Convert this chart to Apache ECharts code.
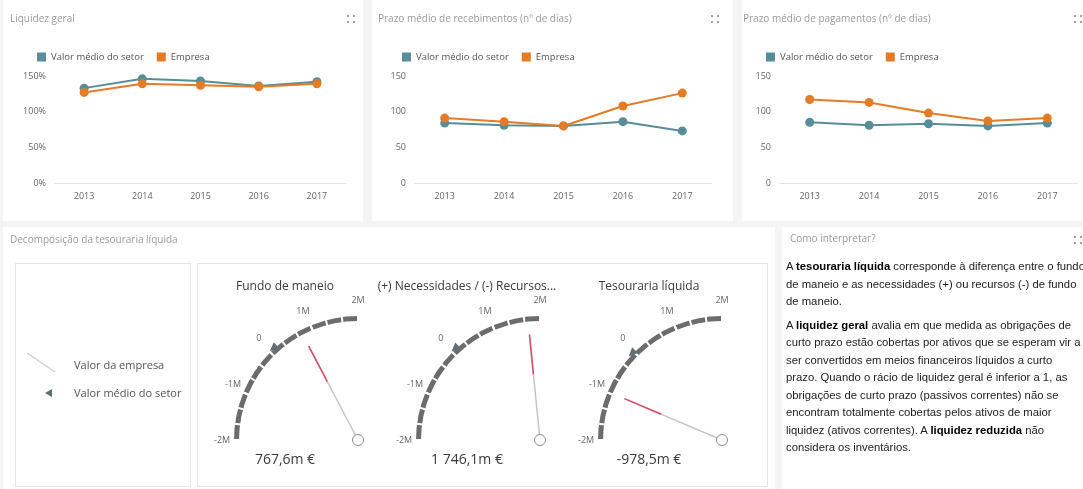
<!DOCTYPE html>
<html>
<head>
<meta charset="utf-8" />
<title>Liquidez e tesouraria</title>
<script src="https://cdn.jsdelivr.net/npm/echarts@6/dist/echarts.min.js"></script>
<style>
    body { margin: 0; background: #f4f4f4; width: 1083px; height: 489px; overflow: hidden; position: relative; }
    .card { position: absolute; background: #fff; }
    .box { position: absolute; background: #fff; border: 1px solid #e4e4e4; box-sizing: border-box; }
    #main { position: absolute; left: 0; top: 0; width: 1083px; height: 489px; }
    #texto { position: absolute; left: 786px; top: 258px; font-family: 'Liberation Sans', Arial, sans-serif;
             font-size: 11.3px; line-height: 17.5px; color: #222; white-space: nowrap; }
    #texto p { margin: 0 0 6px 0; }
    #texto b { color: #000; }
</style>
</head>
<body>
<!-- cartões do painel -->
<div class="card" style="left:3px;top:0;width:360px;height:221px;"></div>
<div class="card" style="left:372px;top:0;width:361px;height:221px;"></div>
<div class="card" style="left:742px;top:0;width:341px;height:221px;"></div>
<div class="card" style="left:3px;top:227px;width:772px;height:262px;"></div>
<div class="card" style="left:782px;top:227px;width:301px;height:262px;"></div>
<div class="box" style="left:15px;top:263px;width:176px;height:224px;"></div>
<div class="box" style="left:197px;top:263px;width:571px;height:224px;"></div>

<div id="main"></div>

<div id="texto">
    <p>A <b>tesouraria líquida</b> corresponde à diferença entre o fundo<br>de maneio e as necessidades (+) ou recursos (-) de fundo<br>de maneio.</p>
    <p>A <b>liquidez geral</b> avalia em que medida as obrigações de<br>curto prazo estão cobertas por ativos que se esperam vir a<br>ser convertidos em meios financeiros líquidos a curto<br>prazo. Quando o rácio de liquidez geral é inferior a 1, as<br>obrigações de curto prazo (passivos correntes) não se<br>encontram totalmente cobertas pelos ativos de maior<br>liquidez (ativos correntes). A <b>liquidez reduzida</b> não<br>considera os inventários.</p>
</div>

<script type="text/javascript">
    // dados
    var anos = ['2013', '2014', '2015', '2016', '2017'];
    var nomesSeries = ['Valor médio do setor', 'Empresa'];
    var liquidezSetor = [133, 146, 143, 136, 142];
    var liquidezEmpresa = [127, 139, 137, 135, 139];
    var recebimentosSetor = [84, 81, 80, 86, 73];
    var recebimentosEmpresa = [91, 86, 80, 108, 126];
    var pagamentosSetor = [85, 81, 83, 80, 84];
    var pagamentosEmpresa = [117, 113, 98, 87, 91];

    var gaugeNomes = ['Fundo de maneio', '(+) Necessidades / (-) Recursos...', 'Tesouraria líquida'];
    var gaugeEmpresa = [767600, 1746100, -978500];
    var gaugeSetor = [100000, 90000, -50000];
    var gaugeMin = -2000000;
    var gaugeMax = 2000000;

    var corSetor = '#568d99';
    var corEmpresa = '#e57b25';
    var fonte = "'Segoe UI', 'Open Sans', sans-serif";

    var myChart = echarts.init(document.getElementById('main'), null, { renderer: 'canvas' });

    function formatoMil(v) {
        var p = (v / 1000).toFixed(1).split('.');
        return p[0].replace(/\B(?=(\d{3})+(?!\d))/g, ' ') + ',' + p[1] + 'm €';
    }

    // gráficos de linhas
    var grids = [
        { left: 55, top: 76, width: 291, height: 107 },
        { left: 415, top: 76, width: 297, height: 107 },
        { left: 780, top: 76, width: 297, height: 107 }
    ];
    var legendasX = [32, 397, 761];
    var dadosLinhas = [
        [liquidezSetor, liquidezEmpresa],
        [recebimentosSetor, recebimentosEmpresa],
        [pagamentosSetor, pagamentosEmpresa]
    ];

    var xAxes = [], yAxes = [], legends = [], series = [];
    grids.forEach(function (g, i) {
        xAxes.push({
            type: 'category', gridIndex: i, data: anos,
            axisLine: { lineStyle: { color: '#e3e3e3' } },
            axisTick: { show: false },
            axisLabel: { color: '#666', fontSize: 9, margin: 9, fontFamily: fonte }
        });
        yAxes.push({
            type: 'value', gridIndex: i, min: 0, max: 150, interval: 50,
            splitLine: { show: false },
            axisLabel: { color: '#666', fontSize: 9, margin: 9, fontFamily: fonte, formatter: i === 0 ? '{value}%' : '{value}' }
        });
        legends.push({
            data: nomesSeries, left: legendasX[i], top: 47, icon: 'rect',
            itemWidth: 9, itemHeight: 9, itemGap: 13,
            textStyle: { color: '#555', fontSize: 9.5, fontFamily: fonte }
        });
        [corSetor, corEmpresa].forEach(function (cor, k) {
            series.push({
                name: nomesSeries[k], type: 'line', xAxisIndex: i, yAxisIndex: i,
                data: dadosLinhas[i][k],
                symbol: 'circle', symbolSize: 9,
                lineStyle: { width: 2, color: cor },
                itemStyle: { color: cor }
            });
        });
    });

    // velocímetros
    var centros = [[358, 440], [540, 440], [722, 440]];
    var raio = 124;
    centros.forEach(function (c, i) {
        var base = {
            type: 'gauge', center: c, radius: raio, startAngle: 180, endAngle: 90,
            min: gaugeMin, max: gaugeMax, splitNumber: 4
        };
        series.push(Object.assign({}, base, {
            z: 3,
            axisLine: { lineStyle: { width: 5, color: [[1, '#6c6c6c']] } },
            splitLine: { distance: -6, length: 7, lineStyle: { color: '#fff', width: 2 } },
            axisTick: { splitNumber: 3, distance: -6, length: 7, lineStyle: { color: '#fff', width: 2 } },
            axisLabel: {
                distance: -21, color: '#666', fontSize: 9, fontFamily: fonte,
                formatter: function (v) { return v === 0 ? '0' : (v / 1000000) + 'M'; }
            },
            pointer: { icon: 'rect', width: 1.5, length: 106, itemStyle: { color: '#c6c6c6' } },
            anchor: { show: true, showAbove: true, size: 11, itemStyle: { color: '#fff', borderColor: '#8a8a8a', borderWidth: 1 } },
            title: { offsetCenter: [-73, -153], fontSize: 12, color: '#3a3a3a', fontFamily: fonte },
            detail: { offsetCenter: [-73, 20], fontSize: 14, color: '#3a3a3a', fontWeight: 'normal', fontFamily: fonte, formatter: formatoMil },
            data: [{ value: gaugeEmpresa[i], name: gaugeNomes[i] }]
        }));
        // parte vermelha do ponteiro
        series.push(Object.assign({}, base, {
            z: 4,
            axisLine: { show: false }, splitLine: { show: false }, axisTick: { show: false }, axisLabel: { show: false },
            pointer: { icon: 'rect', width: 1.5, length: 40, offsetCenter: [0, -66], itemStyle: { color: '#dc4c64' } },
            title: { show: false }, detail: { show: false },
            data: [{ value: gaugeEmpresa[i] }]
        }));
        // valor médio do setor
        series.push(Object.assign({}, base, {
            z: 5,
            axisLine: { show: false }, splitLine: { show: false }, axisTick: { show: false }, axisLabel: { show: false },
            pointer: { icon: 'path://M0,5L10,0L10,10Z', keepAspect: false, width: 9, length: 8, offsetCenter: [0, -121], itemStyle: { color: '#5e6f78' } },
            title: { show: false }, detail: { show: false },
            data: [{ value: gaugeSetor[i] }]
        }));
    });

    function cantos(x, y) {
        var d = [];
        [[0, 0], [6, 0], [0, 6], [6, 6]].forEach(function (p) {
            d.push({ type: 'rect', shape: { x: x + p[0], y: y + p[1], width: 2, height: 2 }, style: { fill: '#a0a0a0' } });
        });
        return d;
    }

    var tituloStyle = { fontSize: 10, fontWeight: 'normal', color: '#9a9a9a', fontFamily: fonte };
    var option = {
        animation: false,
        title: [
            { text: 'Liquidez geral', left: 10, top: 14, padding: 0, textStyle: tituloStyle },
            { text: 'Prazo médio de recebimentos (nº de dias)', left: 378, top: 14, padding: 0, textStyle: tituloStyle },
            { text: 'Prazo médio de pagamentos (nº de dias)', left: 743, top: 14, padding: 0, textStyle: tituloStyle },
            { text: 'Decomposição da tesouraria líquida', left: 10, top: 235, padding: 0, textStyle: tituloStyle },
            { text: 'Como interpretar?', left: 790, top: 234, padding: 0, textStyle: tituloStyle }
        ],
        legend: legends,
        grid: grids,
        xAxis: xAxes,
        yAxis: yAxes,
        series: series,
        graphic: [].concat(
            cantos(347, 15), cantos(711, 15), cantos(1074, 15), cantos(1074, 236),
            [
                { type: 'line', shape: { x1: 27, y1: 353, x2: 55, y2: 372 }, style: { stroke: '#d4cfd0', lineWidth: 1.5 } },
                { type: 'polygon', shape: { points: [[45, 393], [52, 389], [52, 397]] }, style: { fill: '#5e6f78' } },
                { type: 'text', x: 74, y: 366, style: { text: 'Valor da empresa', fill: '#555', font: '11px ' + fonte, verticalAlign: 'middle' } },
                { type: 'text', x: 74, y: 394, style: { text: 'Valor médio do setor', fill: '#555', font: '11px ' + fonte, verticalAlign: 'middle' } }
            ]
        )
    };
    myChart.setOption(option);
</script>
</body>
</html>
